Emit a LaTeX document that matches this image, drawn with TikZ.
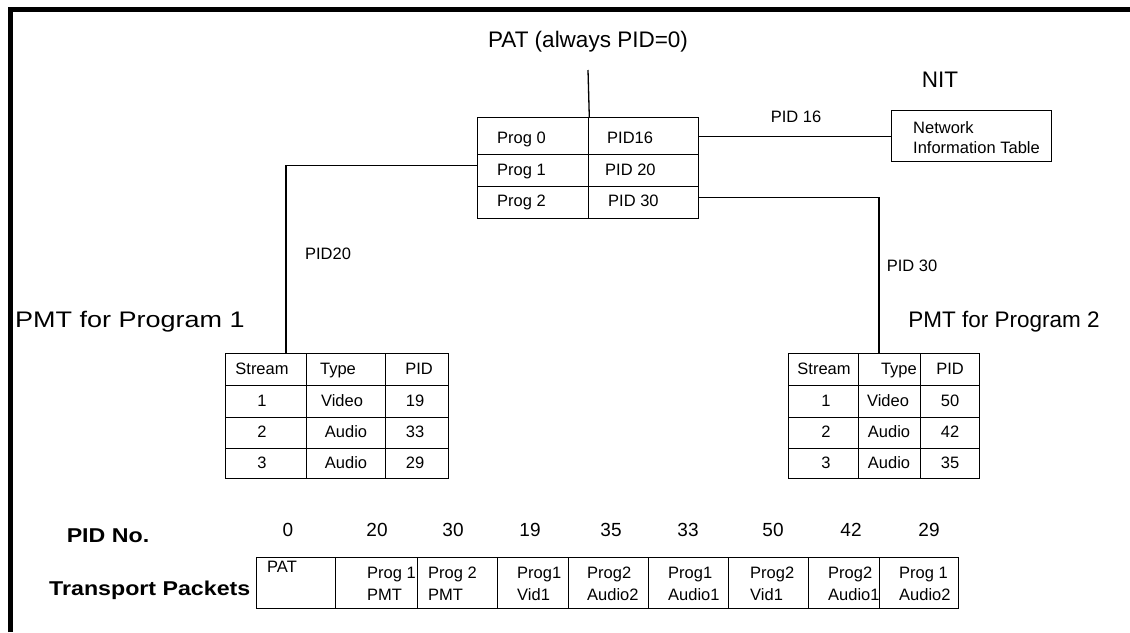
\documentclass[tikz,border=0pt]{standalone}
\usepackage{fontspec}
\setmainfont{Liberation Sans}
\newfontfamily\widebold[FakeStretch=1.16]{Liberation Sans Bold}
\newfontfamily\widereg[FakeStretch=1.2]{Liberation Sans}
\begin{document}
\begin{tikzpicture}[x=1pt,y=-1pt,
  grid/.style={draw, line width=1.3pt, inner sep=0pt, anchor=north west},
  smfont/.style={font=\fontsize{16.5}{22}\selectfont, inner sep=0pt},
  sm/.style={smfont, text height=12pt, text depth=3.5pt},
  big/.style={font=\fontsize{22.5}{26}\selectfont, inner sep=0pt, text height=16pt, text depth=4.5pt},
  bnum/.style={font=\fontsize{19}{22}\selectfont, inner sep=0pt, text height=14pt, text depth=0pt},
  boldlab/.style={font=\widebold\fontsize{20}{24}\selectfont, inner sep=0pt, text height=14.5pt, text depth=0pt},
  wire/.style={line width=1.3pt},
  ptxt/.style={smfont, align=left, anchor=west},
]
\newcommand\cellbox[5]{\node[grid, minimum width=#4pt, minimum height=#5pt] (#1) at (#2,#3) {};}
\useasboundingbox (0,0) rectangle (1130,632);
% frame
\draw[line width=5pt] (10.5,632) -- (10.5,9.5) -- (1130,9.5);

% PAT
\node[big] (pattitle) at (588,42) {PAT (always PID=0)};
\cellbox{p01}{477}{117}{111}{37}
\cellbox{p02}{588}{117}{110}{37}
\cellbox{p11}{477}{154}{111}{32}
\cellbox{p12}{588}{154}{110}{32}
\cellbox{p21}{477}{186}{111}{32}
\cellbox{p22}{588}{186}{110}{32}
\node[sm, anchor=west] (t01) at (497,139) {Prog 0};
\node[sm, anchor=west] (t02) at (607,139) {PID16};
\node[sm, anchor=west] (t11) at (497,171) {Prog 1};
\node[sm, anchor=west] (t12) at (605,171) {PID 20};
\node[sm, anchor=west] (t21) at (497,202) {Prog 2};
\node[sm, anchor=west] (t22) at (608,202) {PID 30};
\coordinate (pattop) at (588,70);
\draw[wire] (pattop) -- (p01.north east);

% NIT
\node[big] (nittitle) at (940,82) {NIT};
\node[draw, line width=1.3pt, anchor=north west, minimum width=160pt, minimum height=51pt, inner sep=0pt] (nit) at (891,110) {};
\node[sm, anchor=west] (nit1) at (913,129) {Network};
\node[sm, anchor=west] (nit2) at (913,149) {Information Table};
\node[sm] (pid16) at (796,118) {PID 16};
\draw[wire] (p02.east) -- (nit.west);

% PMT 1
\node[big, font=\widereg\fontsize{22.5}{26}\selectfont, anchor=west] (pmt1title) at (15,322) {PMT for Program 1};
\foreach \r/\y/\h in {0/353/32,1/385/32,2/417/31,3/448/30}{
  \cellbox{a\r1}{225}{\y}{81}{\h}
  \cellbox{a\r2}{306}{\y}{79}{\h}
  \cellbox{a\r3}{385}{\y}{63}{\h}
}
\node[sm] (a0t1) at (262,370) {Stream};
\node[sm] (a0t2) at (338,370) {Type};
\node[sm] (a0t3) at (419,370) {PID};
\node[sm] (a1t1) at (262,402) {1};
\node[sm] (a1t2) at (342,402) {Video};
\node[sm] (a1t3) at (415,402) {19};
\node[sm] (a2t1) at (262,433) {2};
\node[sm] (a2t2) at (346,433) {Audio};
\node[sm] (a2t3) at (415,433) {33};
\node[sm] (a3t1) at (262,464) {3};
\node[sm] (a3t2) at (346,464) {Audio};
\node[sm] (a3t3) at (415,464) {29};
\coordinate (m1top) at (286,353);
\draw[wire] ([yshift=5pt]p11.west) -| (m1top);
\node[sm] (pid20) at (328,255) {PID20};

% PMT 2
\node[big] (pmt2title) at (1004,322) {PMT for Program 2};
\foreach \r/\y/\h in {0/353/32,1/385/32,2/417/31,3/448/30}{
  \cellbox{b\r1}{788}{\y}{70}{\h}
  \cellbox{b\r2}{858}{\y}{62}{\h}
  \cellbox{b\r3}{920}{\y}{59}{\h}
}
\node[sm] (b0t1) at (824,370) {Stream};
\node[sm, anchor=east] (b0t2) at (917,370) {Type};
\node[sm] (b0t3) at (950,370) {PID};
\node[sm] (b1t1) at (826,402) {1};
\node[sm] (b1t2) at (888,402) {Video};
\node[sm] (b1t3) at (950,402) {50};
\node[sm] (b2t1) at (826,433) {2};
\node[sm] (b2t2) at (889,433) {Audio};
\node[sm] (b2t3) at (950,433) {42};
\node[sm] (b3t1) at (826,464) {3};
\node[sm] (b3t2) at (889,464) {Audio};
\node[sm] (b3t3) at (950,464) {35};
\coordinate (m2top) at (879,353);
\draw[wire] ([yshift=5pt]p22.east) -| (m2top);
\node[sm] (pid30) at (912,267) {PID 30};

% transport packets
\node[boldlab] (pidno) at (108,535) {PID No.};
\node[boldlab, anchor=west] (tp) at (49,588) {Transport Packets};
\foreach \n/\x in {0/288,20/377,30/453,19/530,35/611,33/688,50/773,42/851,29/929}{
  \node[bnum] (n\n) at (\x,529) {\n};
}
\cellbox{k1}{256}{557}{79}{51}
\cellbox{k2}{335}{557}{82}{51}
\cellbox{k3}{417}{557}{80}{51}
\cellbox{k4}{497}{557}{71}{51}
\cellbox{k5}{568}{557}{80}{51}
\cellbox{k6}{648}{557}{80}{51}
\cellbox{k7}{728}{557}{80}{51}
\cellbox{k8}{808}{557}{71}{51}
\cellbox{k9}{879}{557}{79}{51}
\node[sm, anchor=west] (kt1) at (267,568) {PAT};
\node[ptxt] (kt2) at (367,584) {Prog 1\\PMT};
\node[ptxt] (kt3) at (428,584) {Prog 2\\PMT};
\node[ptxt] (kt4) at (517,584) {Prog1\\Vid1};
\node[ptxt] (kt5) at (587,584) {Prog2\\Audio2};
\node[ptxt] (kt6) at (668,584) {Prog1\\Audio1};
\node[ptxt] (kt7) at (750,584) {Prog2\\Vid1};
\node[ptxt] (kt8) at (828,584) {Prog2\\Audio1};
\node[ptxt] (kt9) at (899,584) {Prog 1\\Audio2};
\end{tikzpicture}
\end{document}
